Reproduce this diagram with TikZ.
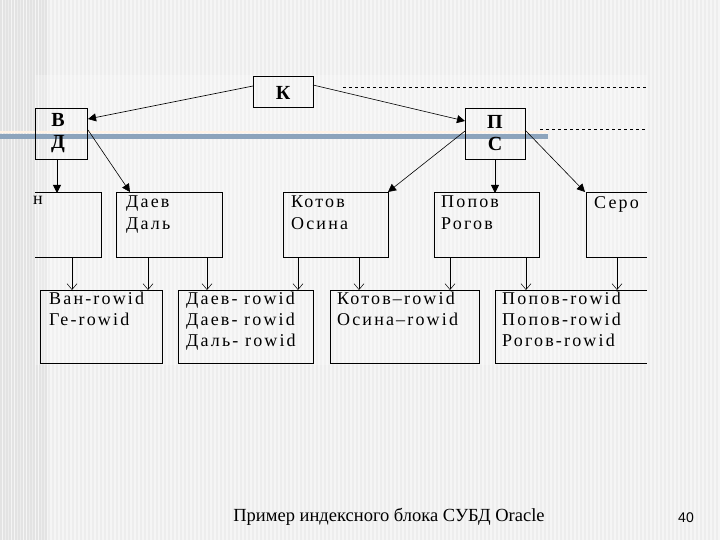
\documentclass[tikz,border=0pt]{standalone}
\usepackage{fontspec}
\setmainfont{Liberation Serif}
\newfontfamily\sansf{Liberation Sans}
\newfontfamily\wide[LetterSpace=12]{Liberation Serif}
\usetikzlibrary{arrows.meta}
\definecolor{barblue}{HTML}{8DA4BC}
\begin{document}
\begin{tikzpicture}[x=1pt,y=-1pt,
  bx/.style={draw,line width=1pt,inner sep=0pt},
  txt/.style={font=\wide\fontsize{18}{22}\selectfont,align=left,anchor=north west,inner sep=0pt},
  hd/.style={font=\fontsize{20}{22}\selectfont\bfseries,align=center},
  big/.style={-{Triangle[length=8pt,width=8pt]},line width=0.9pt},
  thin/.style={-{Straight Barb[length=6pt,width=10pt]},line width=0.5pt}]
\useasboundingbox (0,0) rectangle (720,540);
\fill[gray!8] (0,0) rectangle (720,540);
\foreach \i in {0,4,...,716} {\fill[gray!14] (\i,0) rectangle (\i+1.5,540);}
\foreach \i in {0,3,...,45} {\fill[gray!22] (\i,0) rectangle (\i+1.5,540);}
\fill[white,opacity=0.25] (35,75) rectangle (647,365);
% blue bar
\fill[orange!10] (0,131) rectangle (548,133);
\fill[barblue] (0,134) rectangle (548,139);
% dashed lines
\draw[dashed,line width=0.6pt] (343,87) -- (647,87);
\draw[dashed,line width=0.6pt] (540,129) -- (647,129);
% top nodes
\draw[bx] (253,77) rectangle (313,108); \node[hd] (k) at (283,93) {К};
\draw[bx] (35,109) rectangle (87,160); \node[hd] (vd) at (58,133) {В\\Д};
\draw[bx] (465,109) rectangle (525,160); \node[hd] (ps) at (495,133) {П\\С};
\coordinate (kL) at (253,86); \coordinate (kR) at (313,85);
\coordinate (vdR) at (88,119); \coordinate (psL) at (465,121);
\draw[big,line width=0.6pt] (kL) -- (vdR);
\draw[big,line width=0.6pt] (kR) -- (psL);
% level 2
\draw[bx] (35,193) -- (101,193) -- (101,257) -- (35,257); \node[txt] (l1) at (33,196) {н};
\draw[bx] (116,193) rectangle (222,257); \node[txt] (l2) at (126,196) {Даев\\Даль};
\draw[bx] (283,193) rectangle (388,257); \node[txt] (l3) at (291,196) {Котов\\Осина};
\draw[bx] (434,193) rectangle (539,257); \node[txt] (l4) at (441,196) {Попов\\Рогов};
\draw[bx] (647,193) -- (586,193) -- (586,257) -- (647,257); \node[txt] (l5) at (594,196) {Серо};
\coordinate (a1) at (57,160); \coordinate (b1) at (57,193);
\coordinate (a2) at (88,130); \coordinate (b2) at (130,192);
\coordinate (a3) at (465,131); \coordinate (b3) at (388,192);
\coordinate (a4) at (495,160); \coordinate (b4) at (495,193);
\coordinate (a5) at (525,130); \coordinate (b5) at (585,192);
\draw[big] (a1) -- (b1); \draw[big,line width=0.6pt] (a2) -- (b2);
\draw[big,line width=0.6pt] (a3) -- (b3); \draw[big] (a4) -- (b4);
\draw[big,line width=0.6pt] (a5) -- (b5);
% level 3
\begin{scope}[txt/.append style={font=\wide\fontsize{18}{21}\selectfont}]
\draw[bx] (40,290) rectangle (162,363); \node[txt] (m1) at (49,292) {Ван-rowid\\Ге-rowid};
\draw[bx] (178,290) rectangle (313,363); \node[txt] (m2) at (186,292) {Даев- rowid\\Даев- rowid\\Даль- rowid};
\draw[bx] (330,290) rectangle (479,363); \node[txt] (m3) at (337,292) {Котов–rowid\\Осина–rowid};
\draw[bx] (647,290) -- (495,290) -- (495,363) -- (647,363); \node[txt] (m4) at (502,292) {Попов-rowid\\Попов-rowid\\Рогов-rowid};
\end{scope}
\foreach \x in {72,148,207,298,359,450,526,617} {
  \coordinate (t\x) at (\x,258); \coordinate (h\x) at (\x,290);
  \draw[thin] (t\x) -- (h\x);}
% caption
\node[font=\fontsize{18.5}{22}\selectfont] (cap) at (389,517) {Пример индексного блока СУБД Oracle};
\node[font=\sansf\fontsize{14}{16}\selectfont] (pg) at (686,518) {40};
\end{tikzpicture}
\end{document}
